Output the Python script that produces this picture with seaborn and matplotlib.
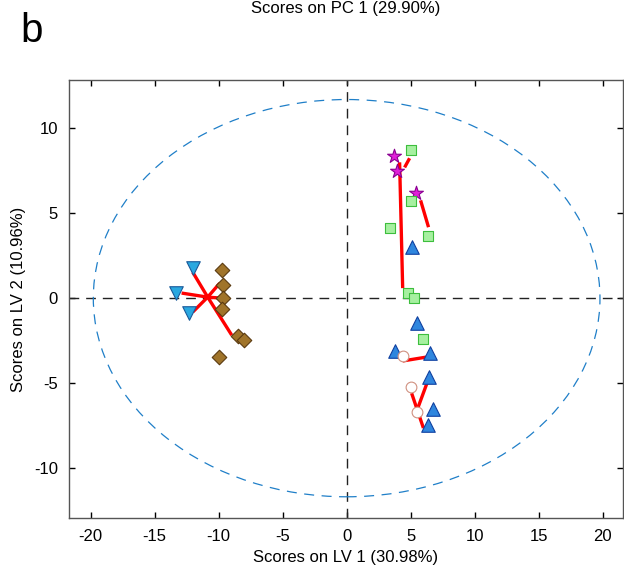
import numpy as np
import pandas as pd
import matplotlib
matplotlib.use("Agg")
import matplotlib.pyplot as plt
import seaborn as sns
from matplotlib.patches import Ellipse

# ---- data ----
tri_down_x = [-12.0, -13.3, -12.3]
tri_down_y = [1.8, 0.3, -0.9]

diamond_x = [-9.77, -9.69, -9.69, -9.77, -8.52, -8.05, -10.0]
diamond_y = [1.65, 0.76, 0.0, -0.65, -2.24, -2.47, -3.47]

star_x = [3.67, 3.91, 5.39]
star_y = [8.35, 7.47, 6.18]

square_x = [5.0, 5.0, 3.36, 6.33, 4.77, 5.23, 5.94]
square_y = [8.71, 5.71, 4.12, 3.65, 0.29, 0.0, -2.41]

tri_up_x = [5.08, 5.47, 3.75, 6.48, 6.40, 6.72, 6.33]
tri_up_y = [3.0, -1.47, -3.12, -3.24, -4.65, -6.53, -7.47]

circle_x = [4.38, 5.0, 5.47]
circle_y = [-3.41, -5.24, -6.71]

seg_x0 = [-10.86, -10.86, -10.86, -10.86, -10.86, -10.86, 4.14, 4.53, 5.78, 4.38, 5.08, 5.55]
seg_y0 = [0.06, 0.06, 0.06, 0.06, 0.06, 0.06, 8.0, 7.7, 5.76, -3.7, -5.6, -6.5]
seg_x1 = [-12.03, -12.9, -12.03, -9.92, -9.77, -8.98, 4.38, 4.92, 6.4, 6.25, 6.0, 6.4]
seg_y1 = [1.53, 0.3, -0.82, 0.88, 0.0, -2.18, 0.59, 8.24, 4.18, -3.47, -7.65, -4.76]

ellipse_a = 19.8
ellipse_b = 11.7

xticks = [-20, -15, -10, -5, 0, 5, 10, 15, 20]
yticks = [-10, -5, 0, 5, 10]

# ---- plot ----
sns.set_theme(style="white")
plt.rcParams['font.family'] = ['Liberation Sans', 'DejaVu Sans']
plt.rcParams['text.color'] = 'black'
plt.rcParams['axes.labelcolor'] = 'black'
plt.rcParams['xtick.color'] = 'black'
plt.rcParams['ytick.color'] = 'black'

fig = plt.figure(figsize=(6.24, 5.71), dpi=100)
ax = fig.add_axes([69/624, 1-518/571, (623-69)/624, (518-80)/571])

ax.axhline(0, color='#222222', lw=1.0, ls=(0, (7, 5)), zorder=1)
ax.axvline(0, color='#222222', lw=1.0, ls=(0, (7, 5)), zorder=1)

ell = Ellipse((0, 0), 2*ellipse_a, 2*ellipse_b, fill=False,
              edgecolor='#1f7fc8', lw=0.9, ls=(0, (8, 6)), zorder=1)
ax.add_patch(ell)

for x0, y0, x1, y1 in zip(seg_x0, seg_y0, seg_x1, seg_y1):
    ax.plot([x0, x1], [y0, y1], color='#ff0000', lw=2.4, solid_capstyle='butt', zorder=2)

groups = [
    (tri_down_x, tri_down_y, 'v', '#2aa8e0', '#1a5a9a', 95),
    (diamond_x, diamond_y, 'D', '#a0742a', '#5a3a10', 55),
    (star_x, star_y, '*', '#e020d8', '#8a0090', 110),
    (square_x, square_y, 's', '#a6f0a0', '#3dbe3d', 55),
    (tri_up_x, tri_up_y, '^', '#2f86de', '#1040a0', 95),
    (circle_x, circle_y, 'o', 'white', '#d09080', 60),
]
for gx, gy, m, fc, ec, s in groups:
    sns.scatterplot(x=gx, y=gy, marker=m, color=fc, edgecolor=ec,
                    linewidth=0.8, s=s, ax=ax, zorder=3)

ax.set_xlim(-21.7, 21.6)
ax.set_ylim(-12.95, 12.85)
ax.set_xticks(xticks)
ax.set_yticks(yticks)
ax.set_xticklabels([str(t) for t in xticks])
ax.set_yticklabels([str(t) for t in yticks])
ax.tick_params(direction='in', length=4, width=1, color='black',
               top=True, right=True, bottom=True, left=True,
               labelsize=12, pad=8, labelcolor='black')
for sp in ax.spines.values():
    sp.set_visible(True)
    sp.set_color('#555555')
    sp.set_linewidth(1.0)

ax.set_xlabel('Scores on LV 1 (30.98%)', fontsize=12, labelpad=4)
ax.set_ylabel('Scores on LV 2 (10.96%)', fontsize=12, labelpad=6)

fig.text(346/624, 1-13/571, 'Scores on PC 1 (29.90%)', ha='center', va='baseline', fontsize=12)
fig.text(20/624, 1-42/571, 'b', ha='left', va='baseline', fontsize=29)

fig.savefig('out.png', dpi=100, facecolor='white')
